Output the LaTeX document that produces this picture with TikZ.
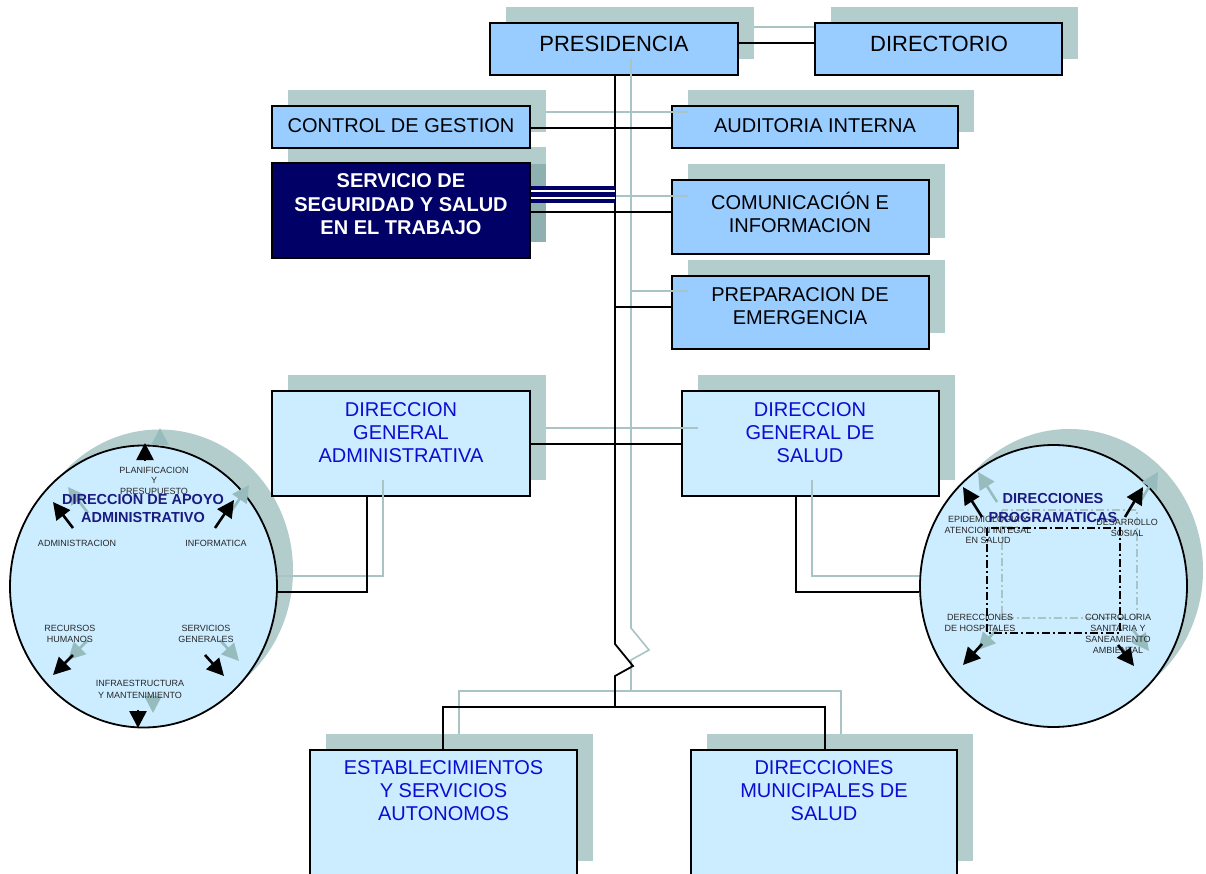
\documentclass[tikz,border=0pt]{standalone}
\usepackage{fontspec}
\setmainfont{Liberation Sans}
\usetikzlibrary{arrows.meta,shapes.geometric}

\definecolor{boxtop}{RGB}{153,204,255}
\definecolor{boxlow}{RGB}{204,236,255}
\definecolor{offsetgrey}{RGB}{179,204,204}
\definecolor{shadeline}{RGB}{168,196,196}
\definecolor{shadearrow}{RGB}{150,188,190}
\definecolor{sstfill}{RGB}{0,0,102}
\definecolor{sstedge}{RGB}{143,176,176}
\definecolor{titleblue}{RGB}{26,26,128}
\definecolor{boxtext}{RGB}{12,12,210}
\definecolor{smalltext}{RGB}{40,40,40}

% grey offset block behind a unit: x1 y1 x2 y2 of the unit itself
\newcommand\dropbox[4]{\fill[offsetgrey] ({#1+16},{#2-16}) rectangle ({#3+16},{#4-16});}
% unit rectangle: name x1 y1 x2 y2 fill
\newcommand\orgnode[6]{\node[unit,fill=#6,minimum width={(#4-#2)*1pt},minimum height={(#5-#3)*1pt}] (#1) at ({(#2+#4)/2},{(#3+#5)/2}) {};}

\begin{document}
\begin{tikzpicture}[x=1pt,y=-1pt,
  unit/.style={draw=black,line width=1.8pt,rectangle,inner sep=0pt},
  uppertxt/.style={font=\fontsize{20}{23}\selectfont,text=black,align=center,inner sep=0pt},
  lowertxt/.style={font=\fontsize{20}{23}\selectfont,text=boxtext,align=center,inner sep=0pt},
  sstxt/.style={font=\fontsize{20}{23.5}\selectfont\bfseries,text=white,align=center,inner sep=0pt},
  tiny/.style={font=\fontsize{9}{11}\selectfont,text=smalltext,align=center,inner sep=0pt},
  circtitle/.style={font=\fontsize{14.5}{18.5}\selectfont\bfseries,text=titleblue,align=center,inner sep=0pt},
  link/.style={draw=black,line width=1.8pt,line join=miter},
  shadowlink/.style={draw=shadeline,line width=1.6pt,line join=miter},
  dirarrow/.style={draw=black,line width=2.6pt,-{Triangle[length=17pt,width=17pt]}},
  ghostarrow/.style={draw=shadearrow,line width=2.6pt,-{Triangle[length=17pt,width=17pt]}},
  looppath/.style={line width=1.8pt,dash pattern=on 8pt off 3pt on 2pt off 3pt},
]
\useasboundingbox (0,0) rectangle (1206,874);
\fill[white] (0,0) rectangle (1206,874);

% ---------- offset blocks ----------
\dropbox{490}{23}{738}{75}
\dropbox{815}{23}{1062}{75}
\dropbox{272}{106}{530}{148}
\dropbox{672}{106}{958}{148}
\dropbox{272}{163}{530}{258}
\dropbox{672}{180}{929}{254}
\dropbox{672}{276}{929}{349}
\dropbox{272}{391}{530}{496}
\dropbox{682}{391}{939}{496}
\dropbox{310}{750}{577}{877}
\dropbox{691}{750}{957}{877}
\fill[offsetgrey] (159.5,570.5) ellipse [x radius=133.5, y radius=141];
\fill[offsetgrey] (1069.5,570) ellipse [x radius=133.5, y radius=141];

% ---------- units ----------
\orgnode{pres}{490}{23}{738}{75}{boxtop}
\orgnode{dir}{815}{23}{1062}{75}{boxtop}
\orgnode{ctrl}{272}{106}{530}{148}{boxtop}
\orgnode{aud}{672}{106}{958}{148}{boxtop}
\orgnode{sst}{272}{163}{530}{258}{sstfill}
\fill[sstedge] (531,164) rectangle (546,242);
\orgnode{com}{672}{180}{929}{254}{boxtop}
\orgnode{prep}{672}{276}{929}{349}{boxtop}
\orgnode{dga}{272}{391}{530}{496}{boxlow}
\orgnode{dgs}{682}{391}{939}{496}{boxlow}
\orgnode{est}{310}{750}{577}{877}{boxlow}
\orgnode{dmu}{691}{750}{957}{877}{boxlow}

\node[ellipse,draw=black,line width=1.8pt,fill=boxlow,inner sep=0pt,
      minimum width=267pt,minimum height=282pt] (apoyo) at (143.5,586.5) {};
\node[ellipse,draw=black,line width=1.8pt,fill=boxlow,inner sep=0pt,
      minimum width=267pt,minimum height=282pt] (prog) at (1053.5,586) {};

% ---------- junction points ----------
\coordinate (tA) at (615,644);
\coordinate (tB) at (633,666);
\coordinate (tC) at (615,676);
\coordinate (hub) at (615,707);
\coordinate (eJ) at (443,707);
\coordinate (mJ) at (825,707);
\coordinate (pd) at (776,43);
\coordinate (ca) at (600,128);
\coordinate (sc) at (600,212);
\coordinate (sTop) at (615,186.5);
\coordinate (sBot) at (615,203.5);
\coordinate (w1) at (615,190.8);
\coordinate (w2) at (615,198.2);
\coordinate (pe) at (615,307);
\coordinate (gg) at (600,444);
\coordinate (la) at (367,592);
\coordinate (ra) at (796,592);

\coordinate (gTop) at (631,59);
\coordinate (gA) at (631,628);
\coordinate (gB) at (649,650);
\coordinate (gC) at (631,660);
\coordinate (gHub) at (631,691);
\coordinate (geJ) at (459,691);
\coordinate (gmJ) at (841,691);
\coordinate (geT) at (459,734);
\coordinate (gmT) at (841,734);
\coordinate (gpd) at (754,27);
\coordinate (gca1) at (546,112);
\coordinate (gca2) at (688,112);
\coordinate (gsc1) at (546,196);
\coordinate (gsc2) at (688,196);
\coordinate (gpe1) at (631,291);
\coordinate (gpe2) at (688,291);
\coordinate (ggg1) at (546,428);
\coordinate (ggg2) at (698,428);
\coordinate (gla0) at (383,480);
\coordinate (gla) at (383,576);
\coordinate (gra0) at (812,480);
\coordinate (gra) at (812,576);

% ---------- offset connectors ----------
\draw[shadowlink] (gTop) -- (gA) -- (gB) -- (gC) -- (gHub);
\draw[shadowlink] (geT) -- (geJ) -- (gmJ) -- (gmT);
\draw[shadowlink] (gpd) -- (dir.west |- gpd);
\draw[shadowlink] (gca1) -- (gca2);
\draw[shadowlink] (gsc1) -- (gsc2);
\draw[shadowlink] (gpe1) -- (gpe2);
\draw[shadowlink] (ggg1) -- (ggg2);
\draw[shadowlink] (gla0) -- (gla) -- (apoyo.east |- gla);
\draw[shadowlink] (gra0) -- (gra) -- (prog.west |- gra);

% ---------- connectors ----------
\draw[link] (pres.south -| tA) -- (tA) -- (tB) -- (tC) -- (hub);
\draw[link] (est.north -| eJ) -- (eJ) -- (mJ) -- (dmu.north -| mJ);
\draw[link] (pres.east |- pd) -- (dir.west |- pd);
\draw[link] (ctrl.east |- ca) -- (aud.west |- ca);
\draw[link] (sst.east |- sc) -- (com.west |- sc);
% triple rule from the safety unit to the trunk
\fill[sstfill] (sst.east |- sTop) rectangle (sBot);
\draw[white,line width=1.5pt] (sst.east |- w1) -- (w1);
\draw[white,line width=1.5pt] (sst.east |- w2) -- (w2);
\draw[link] (pe) -- (prep.west |- pe);
\draw[link] (dga.east |- gg) -- (dgs.west |- gg);
\draw[link] (dga.south -| la) -- (la) -- (apoyo.east |- la);
\draw[link] (dgs.south -| ra) -- (ra) -- (prog.west |- ra);

% ---------- unit texts ----------
\node[uppertxt,font=\fontsize{22}{25}\selectfont] (pres-t) at (614,44) {PRESIDENCIA};
\node[uppertxt,font=\fontsize{22}{25}\selectfont] (dir-t) at (939,44) {DIRECTORIO};
\node[uppertxt] (ctrl-t) at (401,126) {CONTROL DE GESTION};
\node[uppertxt] (aud-t) at (815,126) {AUDITORIA INTERNA};
\node[sstxt] (sst-t) at (401,204.5) {SERVICIO DE\\SEGURIDAD Y SALUD\\EN EL TRABAJO};
\node[uppertxt] (com-t) at (800,212) {COMUNICACIÓN E\\INFORMACION};
\node[uppertxt] (prep-t) at (800,306.5) {PREPARACION DE\\EMERGENCIA};
\node[lowertxt] (dga-t) at (401,433) {DIRECCION\\GENERAL\\ADMINISTRATIVA};
\node[lowertxt] (dgs-t) at (810,433) {DIRECCION\\GENERAL DE\\SALUD};
\node[lowertxt] (est-t) at (443.5,791) {ESTABLECIMIENTOS\\Y SERVICIOS\\AUTONOMOS};
\node[lowertxt] (dmu-t) at (824,791) {DIRECCIONES\\MUNICIPALES DE\\SALUD};

% ---------- administrative support ring ----------
\begin{scope}[shift={(15,-15)}]
  \draw[ghostarrow] (145,461) -- (145,443);
  \draw[ghostarrow] (73,528) -- (53,502);
  \draw[ghostarrow] (215,528) -- (234,500);
  \draw[ghostarrow] (73,655) -- (53,675);
  \draw[ghostarrow] (205,655) -- (224,676);
  \draw[ghostarrow] (138,710) -- (138,728);
\end{scope}
\node[circtitle] (apoyo-t) at (143,508.5) {DIRECCION DE APOYO\\ADMINISTRATIVO};
\node[tiny,font=\fontsize{9}{10.5}\selectfont] (plan) at (154,480.5) {PLANIFICACION\\Y\\PRESUPUESTO};
\node[tiny] (admin) at (77,543.5) {ADMINISTRACION};
\node[tiny] (info) at (216,543.5) {INFORMATICA};
\node[tiny] (rrhh) at (70,633.5) {RECURSOS\\HUMANOS};
\node[tiny] (sgen) at (206,633.5) {SERVICIOS\\GENERALES};
\node[tiny,font=\fontsize{9}{12}\selectfont] (infra) at (140,689) {INFRAESTRUCTURA\\Y MANTENIMIENTO};
\draw[dirarrow] (145,461) -- (145,443);
\draw[dirarrow] (73,528) -- (53,502);
\draw[dirarrow] (215,528) -- (234,500);
\draw[dirarrow] (73,655) -- (53,675);
\draw[dirarrow] (205,655) -- (224,676);
\draw[dirarrow] (138,710) -- (138,728);

% ---------- programme directions ring ----------
\draw[looppath,draw=shadeline] (1002,510) rectangle (1137,618);
\begin{scope}[shift={(15,-15)}]
  \draw[ghostarrow] (982,517) -- (963,487);
  \draw[ghostarrow] (1125,517) -- (1143,487);
  \draw[ghostarrow] (982,644) -- (963,665);
  \draw[ghostarrow] (1118,645) -- (1134,666);
\end{scope}
\node[tiny,font=\fontsize{9}{10.5}\selectfont] (epi) at (988,530) {EPIDEMIOLOGIA Y\\ATENCION INTEGAL\\EN SALUD};
\node[tiny] (desa) at (1127,528) {DESARROLLO\\SOSIAL};
\node[tiny] (hosp) at (980,622.5) {DERECCIONES\\DE HOSPITALES};
\node[tiny] (contr) at (1118,633.5) {CONTROLORIA\\SANITARIA Y\\SANEAMIENTO\\AMBIENTAL};
\draw[looppath,draw=black] (987,528) rectangle (1120,633);
\node[circtitle] (prog-t) at (1053,508) {DIRECCIONES\\PROGRAMATICAS};
\draw[dirarrow] (982,517) -- (963,487);
\draw[dirarrow] (1125,517) -- (1143,487);
\draw[dirarrow] (982,644) -- (963,665);
\draw[dirarrow] (1118,645) -- (1134,666);
\end{tikzpicture}
\end{document}
